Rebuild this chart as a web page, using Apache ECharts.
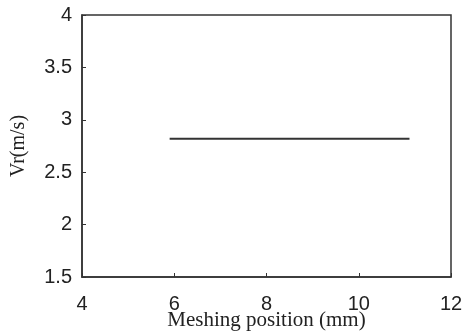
<!DOCTYPE html>
<html>
<head>
<meta charset="utf-8">
<script src="https://cdn.jsdelivr.net/npm/echarts@6/dist/echarts.min.js"></script>
<style>
  html, body { margin: 0; padding: 0; background: #fff; }
  #chart { width: 466px; height: 331px; }
</style>
</head>
<body>
<div id="chart"></div>
<script>
var positions = [5.9, 11.1];
var velocity = [2.82, 2.82];
var xTicks = [4, 6, 8, 10, 12];
var yTicks = [1.5, 2, 2.5, 3, 3.5, 4];

var myChart = echarts.init(document.getElementById('chart'));

var tickFont = {
	fontFamily: 'Liberation Sans',
	fontSize: 20,
	color: '#222'
};

myChart.setOption({
	animation: false,
	grid: {
		left: 82,
		right: 15,
		top: 15,
		bottom: 54,
		outerBoundsMode: 'none',
		containLabel: false,
		show: true,
		borderColor: '#333',
		borderWidth: 1.5
	},
	xAxis: {
		type: 'value',
		min: xTicks[0],
		max: xTicks[xTicks.length - 1],
		interval: 2,
		name: 'Meshing position (mm)',
		nameLocation: 'middle',
		nameGap: 33,
		nameMoveOverlap: false,
		nameTextStyle: {
			fontFamily: 'Liberation Serif',
			fontSize: 21,
			color: '#222'
		},
		axisLine: { show: true, lineStyle: { color: '#333', width: 1.5 } },
		axisTick: { inside: true, length: 4, lineStyle: { color: '#333' } },
		axisLabel: Object.assign({ margin: 17 }, tickFont),
		splitLine: { show: false }
	},
	yAxis: {
		type: 'value',
		min: yTicks[0],
		max: yTicks[yTicks.length - 1],
		interval: 0.5,
		name: 'Vr(m/s)',
		nameLocation: 'middle',
		nameGap: 53,
		nameMoveOverlap: false,
		nameTextStyle: {
			fontFamily: 'Liberation Serif',
			fontSize: 20,
			color: '#222'
		},
		axisLine: { show: true, lineStyle: { color: '#333', width: 1.5 } },
		axisTick: { inside: true, length: 4, lineStyle: { color: '#333' } },
		axisLabel: Object.assign({ margin: 10 }, tickFont),
		splitLine: { show: false }
	},
	series: [{
		type: 'line',
		data: positions.map(function (x, i) { return [x, velocity[i]]; }),
		showSymbol: false,
		lineStyle: { color: '#333', width: 2 }
	}]
});
</script>
</body>
</html>
